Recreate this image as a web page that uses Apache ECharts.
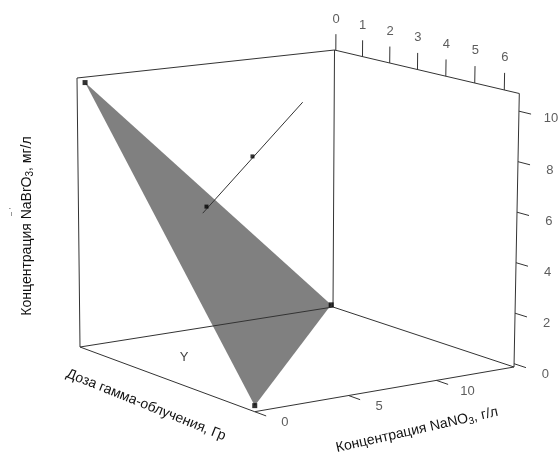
<!DOCTYPE html>
<html>
<head>
<meta charset="utf-8">
<title>NaBrO3 surface</title>
<style>
  html, body { margin: 0; padding: 0; background: #fff; }
  #chart { width: 558px; height: 452px; }
</style>
<script src="https://cdn.jsdelivr.net/npm/echarts@6/dist/echarts.min.js"></script>
</head>
<body>
<div id="chart"></div>
<script>
// values: [dose, NaNO3, NaBrO3]
const planeVertices = [[0, 0.35, 10.5], [0, 14.5, 0], [6.5, 0, 0.1]]
const lineEnds = [[3, 2.35, 6.01], [3, 7.86, 9.92]]
const linePoints = [[3, 5.05, 8], [3, 2.55, 6.25]]

const doseTicks = [0, 1, 2, 3, 4, 5, 6]
const nitrateTicks = [0, 5, 10]
const bromateTicks = [0, 2, 4, 6, 8, 10]

// axis ranges of the box
const doseRange = [-0.05, 6.5]
const nitrateRange = [0, 14.7]
const bromateRange = [-0.13, 10.7]

// where the box corners land on the page, named [dose, nitrate, bromate] as low/high
const corners = {
  lll: [80, 347], hll: [254.7, 411.7], lhl: [333, 307], hhl: [514, 367],
  llh: [77, 78], hlh: [257, 126], lhh: [334.5, 50], hhh: [519.3, 93.5]
}
const doseDepth = 0.935
const nitrateDepth = 1.1

const warp = (t, g) => (g * t) / (1 - t + g * t)
const mix = (a, b, t) => [a[0] + (b[0] - a[0]) * t, a[1] + (b[1] - a[1]) * t]

// 3D value -> page position (perspective along the two floor axes)
const project = ([x, y, z]) => {
  const u = warp((x - doseRange[0]) / (doseRange[1] - doseRange[0]), doseDepth)
  const v = warp((y - nitrateRange[0]) / (nitrateRange[1] - nitrateRange[0]), nitrateDepth)
  const w = (z - bromateRange[0]) / (bromateRange[1] - bromateRange[0])
  const floor = mix(mix(corners.lll, corners.hll, u), mix(corners.lhl, corners.hhl, u), v)
  const top = mix(mix(corners.llh, corners.hlh, u), mix(corners.lhh, corners.hhh, u), v)
  return mix(floor, top, w)
}

const [x0, x1] = doseRange
const [y0, y1] = nitrateRange
const [z0, z1] = bromateRange

const edges = [
  [[x0, y0, z0], [x1, y0, z0]],
  [[x1, y0, z0], [x1, y1, z0]],
  [[x1, y1, z0], [x0, y1, z0]],
  [[x0, y1, z0], [x0, y0, z0]],
  [[x0, y0, z0], [x0, y0, z1]],
  [[x0, y1, z0], [x0, y1, z1]],
  [[x1, y1, z0], [x1, y1, z1]],
  [[x0, y0, z1], [x0, y1, z1]],
  [[x0, y1, z1], [x1, y1, z1]]
]

const ticks = [
  ...doseTicks.map((d) => [[d, y1, z1], [d, y1, z1 + 0.68]]),
  ...nitrateTicks.map((n) => [[x1, n, z0], [x1 + 0.4, n, z0]]),
  ...bromateTicks.map((b) => [[x1, y1, b], [x1 + 0.4, y1, b]])
]

const labels = [
  ...doseTicks.map((d) => [...project([d, y1, z1 + 1.3]), d]),
  ...nitrateTicks.map((n) => [...project([x1 + 1.05, n, z0]), n]),
  ...bromateTicks.map((b) => [...project([x1 + 1.05, y1, b]), b])
]

const toSegment = ([a, b]) => [...project(a), ...project(b)]

const renderSegment = (color) => (params, api) => {
  const a = api.coord([api.value(0), api.value(1)])
  const b = api.coord([api.value(2), api.value(3)])
  return {
    type: 'line',
    shape: { x1: a[0], y1: a[1], x2: b[0], y2: b[1] },
    style: { stroke: color, lineWidth: 1 }
  }
}

const titleText = (text, x, y, rotation, rich) => ({
  type: 'text',
  x,
  y,
  rotation,
  style: {
    text,
    rich,
    fill: '#111',
    font: '14px "Liberation Sans"',
    align: 'center',
    verticalAlign: 'middle'
  }
})

const subRich = {
  sub: { fontSize: 10, padding: [7, 0, 0, 0], fill: '#111', fontFamily: 'Liberation Sans' },
  t: { fontSize: 14, fill: '#111', fontFamily: 'Liberation Sans' }
}

const chart = echarts.init(document.getElementById('chart'))

chart.setOption({
  animation: false,
  backgroundColor: '#fff',
  grid: { left: 0, right: 0, top: 0, bottom: 0 },
  xAxis: { type: 'value', min: 0, max: 558, show: false },
  yAxis: { type: 'value', min: 0, max: 452, inverse: true, show: false },
  graphic: [
    titleText('{t|Концентрация NaBrO}{sub|3}{t|, мг/л}', 27, 226, Math.PI / 2, subRich),
    titleText('{t|Концентрация NaNO}{sub|3}{t|, г/л}', 417, 430, 0.223, subRich),
    titleText('Доза гамма-облучения, Гр', 146, 405, -0.382),
    {
      type: 'text',
      x: 184,
      y: 357,
      style: { text: 'Y', fill: '#444', font: '13px "Liberation Sans"', align: 'center', verticalAlign: 'middle' }
    },
    {
      type: 'text',
      x: 12,
      y: 212,
      rotation: Math.PI / 2,
      style: { text: "~ '", fill: '#333', font: '8px "Liberation Sans"', align: 'center', verticalAlign: 'middle' }
    }
  ],
  series: [
    {
      type: 'custom',
      coordinateSystem: 'cartesian2d',
      silent: true,
      z: 1,
      data: [planeVertices.flatMap(project)],
      renderItem: (params, api) => ({
        type: 'polygon',
        shape: {
          points: [0, 2, 4].map((i) => api.coord([api.value(i), api.value(i + 1)]))
        },
        style: { fill: '#808080' }
      })
    },
    {
      type: 'custom',
      coordinateSystem: 'cartesian2d',
      silent: true,
      z: 2,
      data: edges.map(toSegment),
      renderItem: renderSegment('#333')
    },
    {
      type: 'custom',
      coordinateSystem: 'cartesian2d',
      silent: true,
      z: 2,
      data: ticks.map(toSegment),
      renderItem: renderSegment('#333')
    },
    {
      type: 'custom',
      coordinateSystem: 'cartesian2d',
      silent: true,
      z: 3,
      data: [toSegment(lineEnds)],
      renderItem: renderSegment('#333')
    },
    {
      type: 'scatter',
      silent: true,
      z: 4,
      symbol: 'rect',
      symbolSize: 5,
      itemStyle: { color: '#000' },
      data: planeVertices.map(project)
    },
    {
      type: 'scatter',
      silent: true,
      z: 4,
      symbol: 'rect',
      symbolSize: 4,
      itemStyle: { color: '#000' },
      data: linePoints.map(project)
    },
    {
      type: 'scatter',
      silent: true,
      z: 5,
      symbolSize: 0,
      data: labels,
      label: {
        show: true,
        position: 'inside',
        formatter: (p) => String(p.value[2]),
        color: '#333',
        fontSize: 13,
        fontFamily: 'Liberation Sans'
      }
    }
  ]
})
</script>
</body>
</html>
